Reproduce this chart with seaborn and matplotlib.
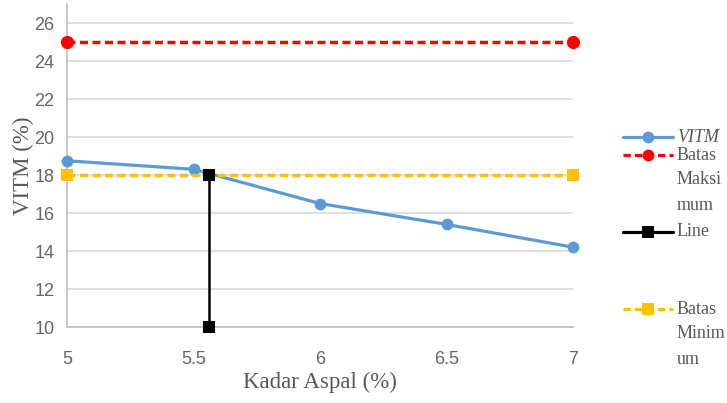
import pandas as pd
import numpy as np
import seaborn as sns
import matplotlib.pyplot as plt

# data
kadar_aspal = [5, 5.5, 6, 6.5, 7]
vitm = [18.75, 18.3, 16.5, 15.4, 14.2]
batas_x = [5, 7]
batas_maks = [25, 25]
batas_min = [18, 18]
line_x = [5.56, 5.56]
line_y = [10, 18]

legend_labels = ['VITM', 'Batas\nMaksi\nmum', 'Line', 'Batas\nMinim\num']

sns.set_style('white')
plt.rcParams['font.family'] = ['Liberation Sans', 'DejaVu Sans']

fig = plt.figure(figsize=(7.27, 4.03), dpi=100)
ax = fig.add_axes([67 / 727, 1 - 327 / 403, (573 - 67) / 727, (327 - 4) / 403])

blue = '#5B9BD5'
red = '#FF0000'
gold = '#FFC000'
dash = (2.3, 1.3)

df_vitm = pd.DataFrame({'x': kadar_aspal, 'y': vitm})
df_maks = pd.DataFrame({'x': batas_x, 'y': batas_maks})
df_min = pd.DataFrame({'x': batas_x, 'y': batas_min})
df_line = pd.DataFrame({'x': line_x, 'y': line_y})

kw = dict(ax=ax, estimator=None, sort=False, errorbar=None, clip_on=False)
sns.lineplot(data=df_vitm, x='x', y='y', color=blue, lw=2.3,
             marker='o', markersize=8.5, markeredgewidth=0, zorder=3, **kw)
sns.lineplot(data=df_maks, x='x', y='y', color=red, lw=2.5, dashes=dash,
             marker='o', markersize=9.5, markeredgewidth=0, zorder=3, **kw)
sns.lineplot(data=df_min, x='x', y='y', color=gold, lw=2.5, dashes=dash,
             marker='s', markersize=8.5, markeredgewidth=0, zorder=3, **kw)
sns.lineplot(data=df_line, x='x', y='y', color='black', lw=1.8,
             marker='s', markersize=9, markeredgewidth=0, zorder=4, **kw)

ax.set_xlim(5, 7)
ax.set_ylim(10, 27)
ax.set_xticks([5, 5.5, 6, 6.5, 7])
ax.set_xticklabels(['5', '5.5', '6', '6.5', '7'])
ax.set_yticks(range(10, 27, 2))
ax.grid(True, axis='y', color='#d9d9d9', lw=1.2)
ax.grid(False, axis='x')
for s in ['top', 'right']:
    ax.spines[s].set_visible(False)
for s in ['left', 'bottom']:
    ax.spines[s].set_color('#bfbfbf')
    ax.spines[s].set_linewidth(1.2)
ax.tick_params(axis='both', colors='#bfbfbf', labelcolor='#666666',
               labelsize=13, length=5, width=1, direction='out')
ax.tick_params(axis='x', pad=12)
ax.tick_params(axis='y', pad=4)

ax.set_xlabel('Kadar Aspal (%)', family='Liberation Serif', fontsize=16.5, color='#595959', labelpad=3)
ax.set_ylabel('VITM (%)', family='Liberation Serif', fontsize=16.5, color='#595959', labelpad=0)

# legend on the right, drawn in its own axes (pixel coordinates)
lax = fig.add_axes([0, 0, 1, 1])
lax.set_xlim(0, 727)
lax.set_ylim(403, 0)
lax.axis('off')
entries = [
    (137, blue, '-', 'o', legend_labels[0]),
    (155, red, '--', 'o', legend_labels[1]),
    (232, 'black', '-', 's', legend_labels[2]),
    (309, gold, '--', 's', legend_labels[3]),
]
for y, c, ls, m, lab in entries:
    lax.plot([623, 673], [y, y], color=c, ls=ls, lw=2.3,
             dashes=dash if ls == '--' else (None, None))
    lax.plot([648], [y], color=c, marker=m, markersize=8.5, markeredgewidth=0)
    for i, part in enumerate(lab.split('\n')):
        lax.text(677, y + i * 25, part, family='Liberation Serif', fontsize=13,
                 color='#595959', va='center', ha='left',
                 style='italic' if lab == 'VITM' else 'normal')

fig.savefig('out.png', dpi=100)
